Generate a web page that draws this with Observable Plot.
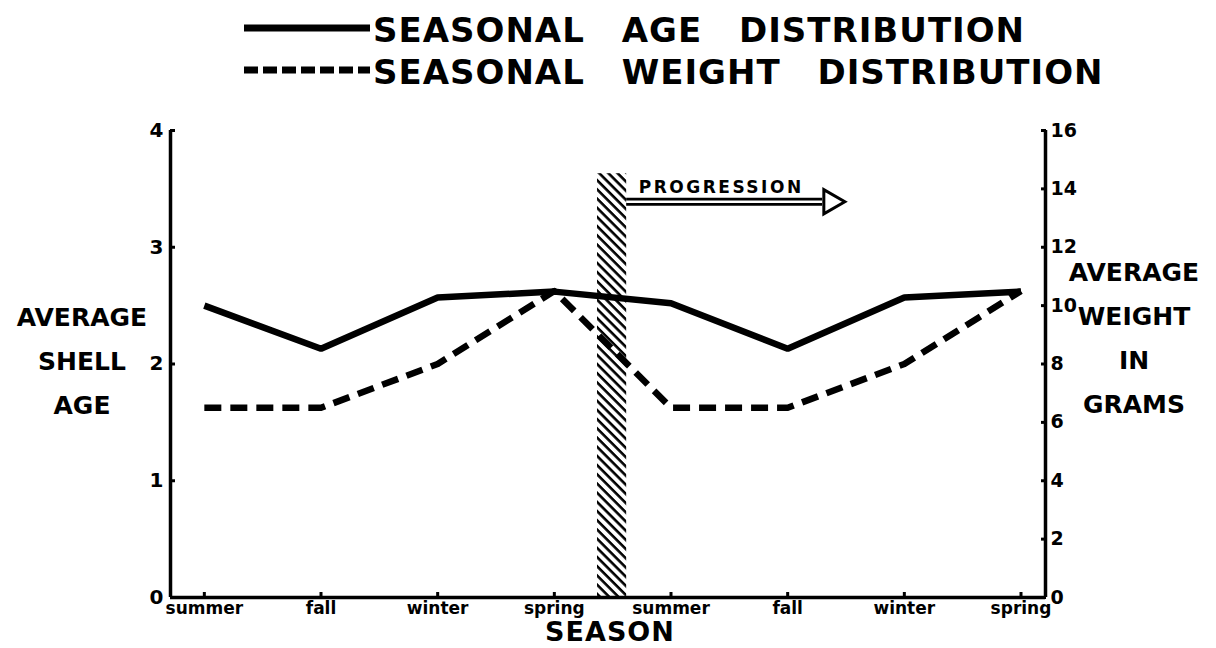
<!DOCTYPE html>
<html>
<head>
<meta charset="utf-8">
<script src="https://cdn.jsdelivr.net/npm/d3@7"></script>
<script src="https://cdn.jsdelivr.net/npm/@observablehq/plot@0.6"></script>
<style>
  html, body { margin: 0; padding: 0; background: #fff; }
  body { width: 1216px; height: 648px; position: relative; overflow: hidden; font-family: "DejaVu Sans", sans-serif; font-weight: bold; color: #000; }
  .abs { position: absolute; z-index: 2; }
  .legend-text { font-size: 34px; letter-spacing: 1px; word-spacing: 24px; white-space: nowrap; line-height: 1; }
  .ytitle { font-size: 25px; text-align: center; line-height: 44px; width: 170px; }
  #chart { position: absolute; left: 0; top: 100px; z-index: 1; }
  .prog text { letter-spacing: 2.5px; }
</style>
</head>
<body>
<div id="chart"></div>
<div id="legend"></div>
<div class="abs ytitle" style="left:-3px; top:296px;">AVERAGE<br>SHELL<br>AGE</div>
<div class="abs ytitle" style="left:1049px; top:251px;">AVERAGE<br>WEIGHT<br>IN<br>GRAMS</div>
<div class="abs" style="left:0; width:1216px; text-align:center; top:617px; font-size:27px; line-height:30px; letter-spacing:1px; transform:translateX(2px);">SEASON</div>
<script>
// ---- data ----
const seasons = ["summer", "fall", "winter", "spring", "summer", "fall", "winter", "spring"];
const ageValues = [2.5, 2.13, 2.57, 2.62, 2.52, 2.13, 2.57, 2.62];
const weightValues = [6.5, 6.5, 8.0, 10.5, 6.5, 6.5, 8.0, 10.5];
const ageTicks = [0, 1, 2, 3, 4];
const weightTicks = [0, 2, 4, 6, 8, 10, 12, 14, 16];
const seriesNames = ["SEASONAL AGE DISTRIBUTION", "SEASONAL WEIGHT DISTRIBUTION"];
const divider = [{from: 3.37, to: 3.62, top: 3.63}];           // hatched band (season index, age units)
const progression = [{from: 3.62, to: 5.3, head: 5.37, y: 3.39, label: "PROGRESSION", labelX: 4.43, labelY: 3.51}];

const ageMax = 4, weightMax = 16;
const toAge = w => w * ageMax / weightMax;

const rows = seasons.map((s, i) => ({i, season: s, age: ageValues[i], weight: weightValues[i]}));

// ---- legend (HTML above the SVG) ----
const legend = document.getElementById("legend");
seriesNames.forEach((name, k) => {
  const top = k === 0 ? 12 : 54;
  const sample = document.createElementNS("http://www.w3.org/2000/svg", "svg");
  sample.setAttribute("width", 130); sample.setAttribute("height", 30);
  sample.style.position = "absolute"; sample.style.left = "242px"; sample.style.top = top + "px";
  const ln = document.createElementNS("http://www.w3.org/2000/svg", "line");
  ln.setAttribute("x1", 2); ln.setAttribute("x2", 128); ln.setAttribute("y1", 16); ln.setAttribute("y2", 16);
  ln.setAttribute("stroke", "#000"); ln.setAttribute("stroke-width", 7);
  if (k === 1) ln.setAttribute("stroke-dasharray", "14,5");
  sample.appendChild(ln);
  legend.appendChild(sample);
  const t = document.createElement("div");
  t.className = "abs legend-text";
  t.style.left = "373px"; t.style.top = (top + 1) + "px";
  t.textContent = name;
  legend.appendChild(t);
});

// ---- chart ----
const xDomain = [-0.29, 7.21];
const chart = Plot.plot({
  width: 1216,
  height: 548,
  marginTop: 30,
  marginBottom: 51,
  marginLeft: 170,
  marginRight: 171,
  style: {fontFamily: "DejaVu Sans", fontWeight: "bold", background: "transparent", color: "#000"},
  x: {domain: xDomain, axis: null},
  y: {domain: [0, ageMax], axis: null},
  marks: [
    // hatched band
    Plot.rect(divider, {x1: "from", x2: "to", y1: 0, y2: "top", fill: "url(#hatch)"}),
    // axis lines
    Plot.ruleX([xDomain[0]], {y1: 0, y2: ageMax, stroke: "#000", strokeWidth: 3.5}),
    Plot.ruleX([xDomain[1]], {y1: 0, y2: ageMax, stroke: "#000", strokeWidth: 3.5}),
    Plot.ruleY([0], {x1: xDomain[0], x2: xDomain[1], stroke: "#000", strokeWidth: 3.5}),
    // axes
    Plot.axisY(ageTicks, {anchor: "left", tickSize: -5, tickPadding: 12, strokeWidth: 3, fontSize: 20, fontWeight: "bold", tickFormat: d => String(d), label: null}),
    Plot.axisY(weightTicks.map(toAge), {anchor: "right", tickSize: -5, tickPadding: 10, strokeWidth: 3, fontSize: 19, fontWeight: "bold", tickFormat: d => String(Math.round(d * weightMax / ageMax)), label: null}),
    Plot.axisX(d3.range(seasons.length), {anchor: "bottom", tickSize: -5, tickPadding: 9, strokeWidth: 3, fontSize: 17, fontWeight: "bold", tickFormat: i => seasons[i], label: null}),
    // series
    Plot.line(rows, {x: "i", y: "age", stroke: "#000", strokeWidth: 6.5, strokeLinejoin: "miter", strokeLinecap: "butt"}),
    Plot.line(rows, {x: "i", y: d => toAge(d.weight), stroke: "#000", strokeWidth: 6.5, strokeDasharray: "17,9", strokeLinecap: "butt"}),
    // progression arrow
    Plot.ruleY(progression, {y: "y", x1: "from", x2: "to", stroke: "#000", strokeWidth: 8}),
    Plot.ruleY(progression, {y: "y", x1: "from", x2: "to", stroke: "#fff", strokeWidth: 2.5}),
    Plot.dot(progression, {x: "head", y: "y", symbol: "triangle", rotate: 90, r: 9, fill: "#fff", stroke: "#000", strokeWidth: 3}),
    Plot.text(progression, {x: "labelX", y: "labelY", text: "label", fontSize: 17, fontWeight: "bold", fill: "#000", className: "prog"})
  ]
});

// hatch pattern definition
const ns = "http://www.w3.org/2000/svg";
const defs = document.createElementNS(ns, "defs");
const pat = document.createElementNS(ns, "pattern");
pat.setAttribute("id", "hatch");
pat.setAttribute("patternUnits", "userSpaceOnUse");
pat.setAttribute("width", 6.5); pat.setAttribute("height", 6.5);
pat.setAttribute("patternTransform", "rotate(-45)");
const pr = document.createElementNS(ns, "rect");
pr.setAttribute("width", 6.5); pr.setAttribute("height", 6.5); pr.setAttribute("fill", "#fff");
const pl = document.createElementNS(ns, "line");
pl.setAttribute("x1", 1.5); pl.setAttribute("x2", 1.5); pl.setAttribute("y1", 0); pl.setAttribute("y2", 6.5);
pl.setAttribute("stroke", "#000"); pl.setAttribute("stroke-width", 2.6);
pat.appendChild(pr); pat.appendChild(pl); defs.appendChild(pat);
chart.insertBefore(defs, chart.firstChild);

document.getElementById("chart").appendChild(chart);
</script>
</body>
</html>
